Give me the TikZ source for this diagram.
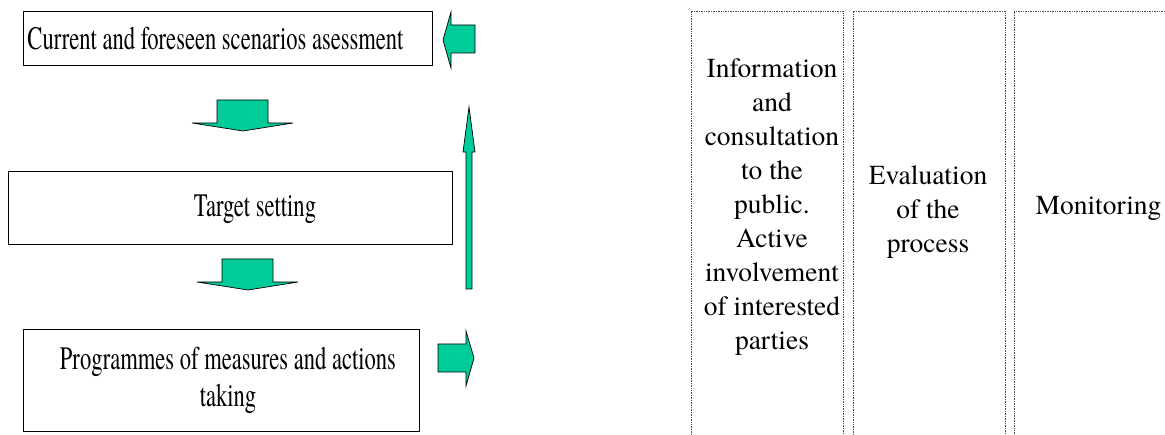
\documentclass[tikz,border=0pt]{standalone}
\usepackage{fontspec}
\setmainfont{texgyretermes}[Extension=.otf, UprightFont=*-regular]
\newfontfamily\narrowfont{texgyretermes}[Extension=.otf, UprightFont=*-regular, FakeStretch=0.69]
\definecolor{arrowgreen}{RGB}{0,204,153}
\tikzset{
  stepbox/.style={draw=black, line width=1pt, inner sep=0pt},
  steptext/.style={inner sep=0pt, align=center, font=\narrowfont\fontsize{32.7}{37}\selectfont},
  column/.style={draw=black!70, densely dotted, line width=0.7pt, inner sep=0pt},
  coltext/.style={inner sep=0pt, align=center, font=\fontsize{27.5}{34}\selectfont},
  blockarrow/.style={fill=arrowgreen, draw=black, line width=0.7pt, line join=miter}
}
\begin{document}
\begin{tikzpicture}[x=1pt,y=-1pt]
		\useasboundingbox (0,0) rectangle (1165,435);
		\clip (0,0) rectangle (1165,435);
		% steps
		\node [stepbox, minimum width=409pt, minimum height=54pt] (assess) at (227.5,39) {};
		\node [steptext] at ([xshift=-12pt]assess.center) {Current and foreseen scenarios asessment};
		\node [stepbox, minimum width=444pt, minimum height=73pt] (target) at (230,208.5) {};
		\node [steptext] at ([xshift=25pt,yshift=-1pt]target.center) {Target setting};
		\node [stepbox, minimum width=396pt, minimum height=102pt] (programme) at (221,381) {};
		\node [steptext] at ([xshift=7pt,yshift=1pt]programme.center) {Programmes of measures and actions\\taking};
		% columns
		\node [column, minimum width=152pt, minimum height=434pt] (info) at (767,228) {};
		\node [coltext] at (772,207) {Information\\and\\consultation\\to the\\public.\\Active\\involvement\\of interested\\parties};
		\node [column, minimum width=152pt, minimum height=434pt] (evaluation) at (929,228) {};
		\node [coltext] at (928,212) {Evaluation\\of the\\process};
		\node [column, minimum width=166pt, minimum height=434pt] (monitoring) at (1097,228) {};
		\node [coltext] at (1098.5,208) {Monitoring};
		% block arrows
		\draw [blockarrow] (217,100) -- (268,100) -- (268,123) -- (293,123) -- (243,131) -- (192,123) -- (217,123) -- cycle;
		\draw [blockarrow] (222,259) -- (273,259) -- (273,282) -- (298,282) -- (248,290) -- (197,282) -- (222,282) -- cycle;
		\draw [blockarrow] (475,25) -- (475,53) -- (451,53) -- (451,68) -- (443,40) -- (451,12) -- (451,25) -- cycle;
		\draw [blockarrow] (466,289) -- (472,289) -- (472,152) -- (475,152) -- (469,107) -- (463,152) -- (466,152) -- cycle;
		\draw [blockarrow] (438,344) -- (466,344) -- (466,331) -- (474,358) -- (466,386) -- (466,372) -- (438,372) -- cycle;
	\end{tikzpicture}
\end{document}
